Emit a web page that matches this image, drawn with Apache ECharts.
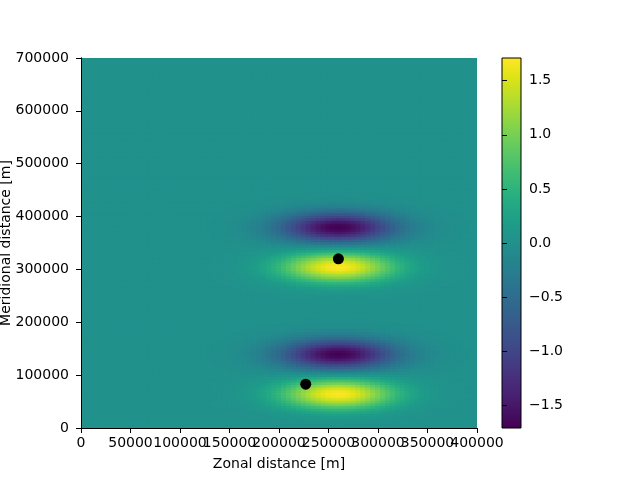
<!DOCTYPE html>
<html><head><meta charset="utf-8">
<script src="https://cdn.jsdelivr.net/npm/echarts@6/dist/echarts.min.js"></script>
<style>html,body{margin:0;padding:0;background:#fff}#c{width:640px;height:480px}</style>
</head><body><div id="c"></div>
<script>
// grid spacing of the sampled field (m)
const gridStep = 5000;
// zonal amplitude profile, x = 0 .. 400000 m every 5000 m
const xProfile = [
  0,0,0,0,0,0,0,0,0,0, 0,0,0,0,0,0,0,0,0,0, 0,0,0,
  0.001,0.002,0.003,0.005,0.008,0.011,0.016,0.023,0.032,0.044,
  0.060,0.080,0.105,0.135,0.17,0.22,0.27,0.32,0.39,0.46,
  0.53,0.61,0.68,0.75,0.82,0.88,0.93,0.97,0.99,1.00,
  0.99,0.97,0.93,0.88,0.82,0.75,0.68,0.61,0.53,0.46,
  0.39,0.32,0.27,0.22,0.17,0.135,0.105,0.080,0.060,0.044,
  0.032,0.023,0.016,0.011,0.008,0.005,0.003,0.002
];
// meridional profile of the field, y = 0 .. 700000 m every 5000 m
const yProfile = [
  0.01,0.02,0.04,0.08,0.14,0.23,0.37,0.55,0.78,1.03,
  1.28,1.50,1.65,1.70,1.65,1.49,1.26,0.99,0.70,0.41,
  0.14,-0.14,-0.41,-0.70,-0.99,-1.26,-1.49,-1.65,-1.70,-1.65,
  -1.50,-1.28,-1.03,-0.78,-0.55,-0.37,-0.23,-0.14,-0.08,-0.04,
  -0.02,-0.01,0,0,0,0,0,0,0.01,0.02,
  0.04,0.08,0.14,0.23,0.37,0.55,0.78,1.03,1.28,1.50,
  1.65,1.70,1.65,1.49,1.26,0.99,0.70,0.41,0.14,-0.14,
  -0.41,-0.70,-0.99,-1.26,-1.49,-1.65,-1.70,-1.65,-1.50,-1.28,
  -1.03,-0.78,-0.55,-0.37,-0.23,-0.14,-0.08,-0.04,-0.02,-0.01,
  0,0,0,0,0,0,0,0,0,0,
  0,0,0,0,0,0,0,0,0,0,
  0,0,0,0,0,0,0,0,0,0,
  0,0,0,0,0,0,0,0,0,0,
  0,0,0,0,0,0,0,0,0,0,
  0
];
// marker points (x, y in m)
const pointsX = [260000, 227000];
const pointsY = [320000, 83000];
// tick labels
const xTicks = [0, 50000, 100000, 150000, 200000, 250000, 300000, 350000, 400000];
const xTicksA = [0, 100000, 200000, 300000, 400000];
const xTicksB = [50000, 150000, 250000, 350000];
const cbTicks = [-1.5, -1.0, -0.5, 0.0, 0.5, 1.0, 1.5];
const vMin = -1.71, vMax = 1.71;
const viridis = ['#440154','#471365','#482475','#463480','#414487','#3b528b','#355f8d','#2f6c8e','#2a788e','#25848e','#21918c','#1e9c89','#22a884','#2fb47c','#44bf70','#5ec962','#7ad151','#9bd93c','#bddf26','#dfe318','#fde725'];

const cells = [];
for (let j = 0; j < yProfile.length; j++) {
  for (let i = 0; i < xProfile.length; i++) {
    cells.push([i * gridStep, j * gridStep, xProfile[i] * yProfile[j]]);
  }
}
const points = pointsX.map((x, k) => [x, pointsY[k]]);

const font = 'DejaVu Sans';
const fs = 14;

function renderCell(params, api) {
  const x = api.value(0), y = api.value(1);
  const p0 = api.coord([x - gridStep / 2, y + gridStep / 2]);
  const p1 = api.coord([x + gridStep / 2, y - gridStep / 2]);
  const cs = params.coordSys;
  const r = echarts.graphic.clipRectByRect(
    {x: p0[0] - 0.5, y: p0[1] - 0.5, width: p1[0] - p0[0] + 1, height: p1[1] - p0[1] + 1},
    {x: cs.x, y: cs.y, width: cs.width, height: cs.height});
  if (!r) return null;
  return {type: 'rect', shape: r, style: {fill: api.visual('color')}};
}

function renderBar(params, api) {
  const p0 = api.coord([0, api.value(2)]);
  const p1 = api.coord([1, api.value(1)]);
  const stops = viridis.map((c, k) => ({offset: k / (viridis.length - 1), color: c}));
  const shape = {x: p0[0], y: p0[1], width: p1[0] - p0[0], height: p1[1] - p0[1]};
  return {type: 'group', children: [
    {type: 'rect', shape: shape, style: {fill: new echarts.graphic.LinearGradient(0, 1, 0, 0, stops)}},
    {type: 'rect', shape: shape, style: {fill: 'none', stroke: '#000', lineWidth: 1}}
  ]};
}

const plain = v => String(v);
const labelStyle = {color: '#000', fontFamily: font, fontSize: fs, hideOverlap: false, formatter: plain};

const chart = echarts.init(document.getElementById('c'), null, {renderer: 'canvas'});
chart.setOption({
  animation: false,
  backgroundColor: '#fff',
  grid: [
    {left: 81, top: 58, width: 396, height: 370, containLabel: false, outerBoundsMode: 'none',
      show: true, backgroundColor: '#21918c', borderWidth: 0},
    {left: 502, top: 58, width: 19, height: 370, containLabel: false, outerBoundsMode: 'none'}
  ],
  visualMap: {
    type: 'continuous', show: false, seriesIndex: 0, dimension: 2,
    min: vMin, max: vMax, inRange: {color: viridis}
  },
  xAxis: [
    {gridIndex: 0, type: 'value', min: 0, max: 400000, position: 'bottom', z: 10,
      name: 'Zonal distance [m]', nameLocation: 'middle', nameGap: 29, nameMoveOverlap: false,
      nameTextStyle: {color: '#000', fontFamily: font, fontSize: fs},
      axisLine: {show: true, lineStyle: {color: '#000', width: 1}},
      axisTick: {show: true, length: 5, customValues: xTicks, lineStyle: {color: '#000'}},
      axisLabel: Object.assign({customValues: xTicksA, margin: 8}, labelStyle),
      splitLine: {show: false}},
    {gridIndex: 0, type: 'value', min: 0, max: 400000, position: 'top', z: 10,
      axisLine: {show: true, lineStyle: {color: '#000'}}, axisTick: {show: false}, axisLabel: {show: false}, splitLine: {show: false}},
    {gridIndex: 1, type: 'value', min: 0, max: 1, show: false},
    {gridIndex: 0, type: 'value', min: 0, max: 400000, position: 'bottom', z: 10,
      axisLine: {show: false}, axisTick: {show: false},
      axisLabel: Object.assign({customValues: xTicksB, margin: 8}, labelStyle),
      splitLine: {show: false}}
  ],
  yAxis: [
    {gridIndex: 0, type: 'value', min: 0, max: 700000, interval: 100000, z: 10,
      name: 'Meridional distance [m]', nameLocation: 'middle', nameGap: 68, nameRotate: 90, nameMoveOverlap: false,
      nameTextStyle: {color: '#000', fontFamily: font, fontSize: fs},
      axisLine: {show: true, lineStyle: {color: '#000', width: 1}},
      axisTick: {show: true, length: 5, lineStyle: {color: '#000'}},
      axisLabel: Object.assign({margin: 12, showMinLabel: true, showMaxLabel: true}, labelStyle),
      splitLine: {show: false}},
    {gridIndex: 0, type: 'value', min: 0, max: 700000, position: 'right', z: 10,
      axisLine: {show: true, lineStyle: {color: '#000'}}, axisTick: {show: false}, axisLabel: {show: false}, splitLine: {show: false}},
    {gridIndex: 1, type: 'value', min: vMin, max: vMax, position: 'right', z: 10,
      axisLine: {show: false},
      axisTick: {show: true, length: 5, customValues: cbTicks, lineStyle: {color: '#000'}},
      axisLabel: {show: true, customValues: cbTicks, color: '#000', fontFamily: font, fontSize: fs, margin: 8,
        formatter: v => (v < 0 ? '\u2212' : '') + Math.abs(v).toFixed(1)},
      splitLine: {show: false}}
  ],
  series: [
    {type: 'custom', xAxisIndex: 0, yAxisIndex: 0, data: cells, renderItem: renderCell,
      encode: {x: 0, y: 1}, progressive: 0, clip: true, silent: true, z: 1},
    {type: 'scatter', xAxisIndex: 0, yAxisIndex: 0, data: points, symbolSize: 11,
      itemStyle: {color: '#000', opacity: 1}, z: 5, silent: true},
    {type: 'custom', xAxisIndex: 2, yAxisIndex: 2, data: [[0, vMin, vMax]], renderItem: renderBar,
      encode: {x: 0, y: [1, 2]}, silent: true}
  ]
});
</script>
</body></html>
